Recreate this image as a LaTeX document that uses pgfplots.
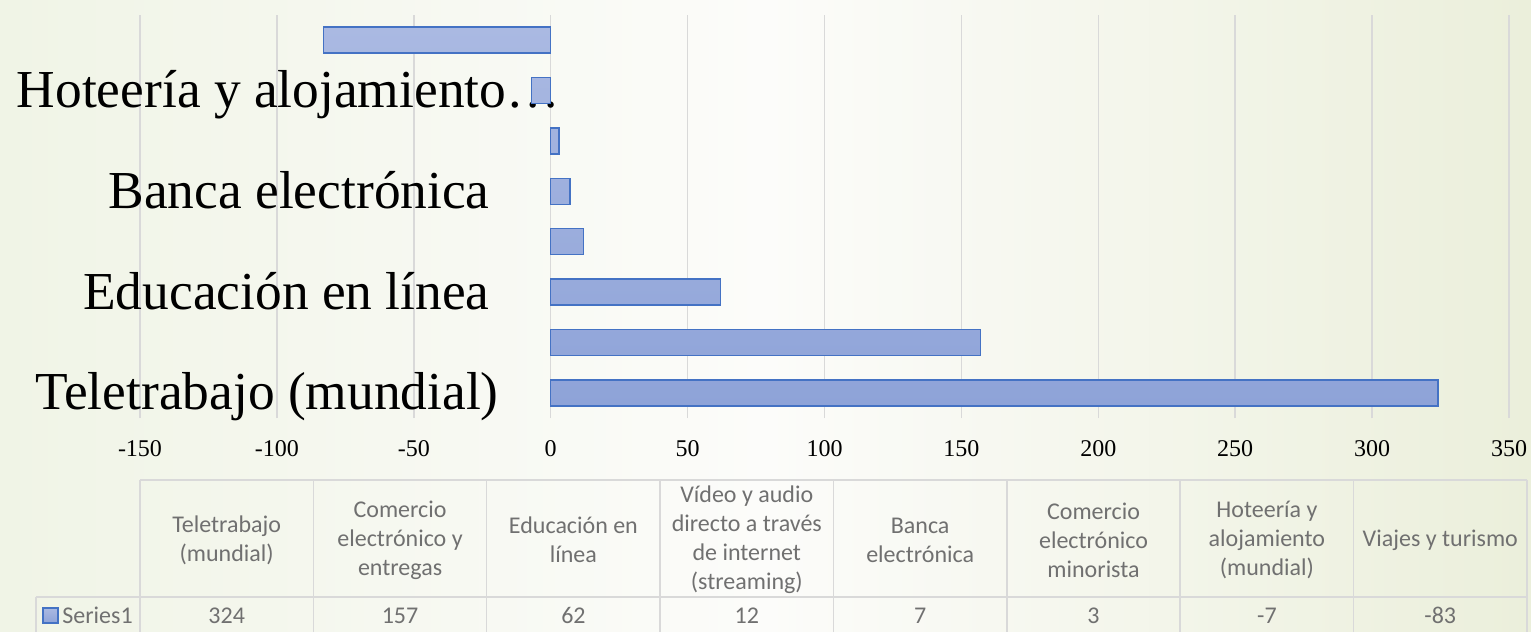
\documentclass[border=0pt]{standalone}
\usepackage{fontspec}
\setmainfont{Liberation Serif}
\newfontfamily\calibri{Carlito}
\usepackage{pgfplots}
\pgfplotsset{compat=1.18}
\definecolor{barline}{HTML}{4472C4}
\definecolor{bartop}{HTML}{AAB9E2}
\definecolor{barbot}{HTML}{8EA3D8}
\definecolor{gridc}{HTML}{D9D9D9}
\definecolor{tabtext}{HTML}{707070}
\definecolor{bgleft}{HTML}{F0F4E6}
\definecolor{bgmid}{HTML}{FCFCFA}
\definecolor{bgright}{HTML}{EBEFDB}
\begin{document}
\begin{tikzpicture}
\begin{scope}[x=0.5bp,y=-0.5bp]
\shade[left color=bgleft, right color=bgright, middle color=bgmid] (0,0) rectangle (1531,632);
\end{scope}
\begin{axis}[
  at={(70bp,-209bp)}, anchor=south west,
  scale only axis, width=684.5bp, height=201.5bp,
  xmin=-150, xmax=350, ymin=-0.5, ymax=7.5,
  xtick={-150,-100,-50,0,50,100,150,200,250,300,350},
  xticklabels={-150,-100,-50,0,50,100,150,200,250,300,350},
  ytick={0,2,4,6},
  yticklabels={{Teletrabajo (mundial)\hspace*{-4.5bp}},{Educación en línea},{Banca electrónica},{Hoteería y alojamiento…\hspace*{-35bp}}},
  xmajorgrids, grid style={gridc, line width=0.75bp},
  axis line style={draw=none},
  major tick length=0pt,
  tick style={draw=none},
  xticklabel style={font=\fontsize{12bp}{14bp}\selectfont, anchor=base, yshift=-19.3bp, inner sep=0pt},
  yticklabel style={font=\fontsize{26.7bp}{30bp}\selectfont, anchor=base east, inner sep=0pt, xshift=175bp, yshift=-8.5bp},
]
\addplot[xbar, bar width=13bp, draw=barline, line width=0.75bp, top color=bartop, bottom color=barbot]
  coordinates {(324,0) (157,1) (62,2) (12,3) (7,4) (3,5) (-7,6) (-83,7)};
\end{axis}
\begin{scope}[x=0.5bp,y=-0.5bp, every node/.style={font=\calibri\fontsize{12bp}{14.5bp}\selectfont, text=tabtext, align=center, inner sep=0pt}]
\draw[gridc, line width=0.75bp] (140,480) -- (1527,480);
\draw[gridc, line width=0.75bp] (36,597) -- (1527,597);
\foreach \i in {0,...,8} {\draw[gridc, line width=0.75bp] ({140+173.375*\i},480) -- ({140+173.375*\i},640);}
\draw[gridc, line width=0.75bp] (36,597) -- (36,640);
\foreach \t [count=\i from 0] in {{Teletrabajo\\(mundial)},{Comercio\\electrónico y\\entregas},{Educación en\\línea},{Vídeo y audio\\directo a través\\de internet\\(streaming)},{Banca\\electrónica},{Comercio\\electrónico\\minorista},{Hoteería y\\alojamiento\\(mundial)},{Viajes y turismo}}
  {\node at ({140+173.375*(\i+0.5)},540) {\t};}
\foreach \v [count=\i from 0] in {324,157,62,12,7,3,-7,-83}
  {\node[anchor=base] at ({140+173.375*(\i+0.5)},624) {\v};}
\filldraw[top color=bartop, bottom color=barbot, draw=barline, line width=0.75bp] (43,608) rectangle (58,623);
\node[anchor=base west] at (62,624) {Series1};
\end{scope}
\pgfresetboundingbox
\path[use as bounding box] (0,0) rectangle (765.5bp,-316bp);
\end{tikzpicture}
\end{document}
